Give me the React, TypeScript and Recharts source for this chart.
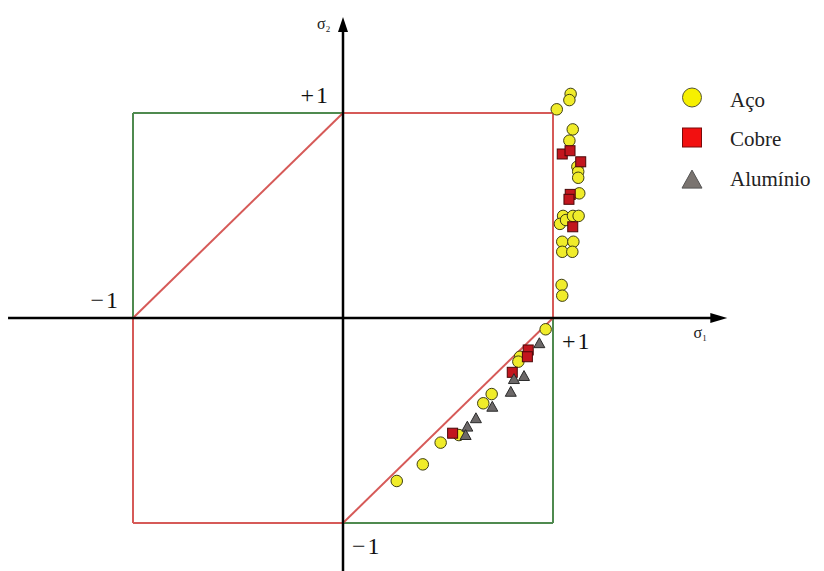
import React from 'react';
import {
  ScatterChart,
  Scatter,
  XAxis,
  YAxis,
  ReferenceLine,
  ReferenceDot,
  Legend,
} from 'recharts';

// ---------------------------------------------------------------------------
// Data: normalised principal stresses (σ1/σe, σ2/σe) at yield
// ---------------------------------------------------------------------------
const ACO = [
  { x: 1.084, y: 1.093 }, { x: 1.078, y: 1.063 }, { x: 1.018, y: 1.018 },
  { x: 1.094, y: 0.92 }, { x: 1.078, y: 0.865 }, { x: 1.116, y: 0.738 },
  { x: 1.12, y: 0.714 }, { x: 1.12, y: 0.684 }, { x: 1.125, y: 0.608 },
  { x: 1.048, y: 0.498 }, { x: 1.033, y: 0.459 }, { x: 1.062, y: 0.478 },
  { x: 1.095, y: 0.498 }, { x: 1.122, y: 0.498 }, { x: 1.044, y: 0.372 },
  { x: 1.044, y: 0.323 }, { x: 1.097, y: 0.372 }, { x: 1.092, y: 0.323 },
  { x: 1.041, y: 0.161 }, { x: 1.044, y: 0.109 },
  { x: 0.965, y: -0.055 }, { x: 0.843, y: -0.189 }, { x: 0.835, y: -0.213 },
  { x: 0.708, y: -0.371 }, { x: 0.668, y: -0.416 }, { x: 0.552, y: -0.571 },
  { x: 0.465, y: -0.608 }, { x: 0.38, y: -0.714 }, { x: 0.256, y: -0.795 },
];

const COBRE = [
  { x: 1.044, y: 0.8 }, { x: 1.081, y: 0.816 }, { x: 1.132, y: 0.762 },
  { x: 1.082, y: 0.603 }, { x: 1.076, y: 0.579 }, { x: 1.094, y: 0.445 },
  { x: 0.882, y: -0.156 }, { x: 0.878, y: -0.189 }, { x: 0.806, y: -0.265 },
  { x: 0.522, y: -0.562 },
];

const ALUMINIO = [
  { x: 0.935, y: -0.123 }, { x: 0.862, y: -0.283 }, { x: 0.814, y: -0.298 },
  { x: 0.799, y: -0.36 }, { x: 0.711, y: -0.433 }, { x: 0.633, y: -0.489 },
  { x: 0.592, y: -0.53 }, { x: 0.584, y: -0.571 },
];

const SERIES = [
  { name: 'Aço', data: ACO, kind: 'circle' },
  { name: 'Cobre', data: COBRE, kind: 'square' },
  { name: 'Alumínio', data: ALUMINIO, kind: 'triangle' },
];

// Tresca hexagon edges and the remaining sides of the unit square
const TRESCA_EDGES = [
  [{ x: 0, y: 1 }, { x: 1, y: 1 }],
  [{ x: 1, y: 1 }, { x: 1, y: 0 }],
  [{ x: 1, y: 0 }, { x: 0, y: -1 }],
  [{ x: 0, y: -1 }, { x: -1, y: -1 }],
  [{ x: -1, y: -1 }, { x: -1, y: 0 }],
  [{ x: -1, y: 0 }, { x: 0, y: 1 }],
];
const SQUARE_EDGES = [
  [{ x: -1, y: 0 }, { x: -1, y: 1 }],
  [{ x: -1, y: 1 }, { x: 0, y: 1 }],
  [{ x: 0, y: -1 }, { x: 1, y: -1 }],
  [{ x: 1, y: -1 }, { x: 1, y: 0 }],
];

const TICK_LABELS = [
  { x: 0, y: 1, text: '+1' },
  { x: -1, y: 0, text: '−1' },
  { x: 1, y: 0, text: '+1' },
  { x: 0, y: -1, text: '−1' },
];

const AXIS_TITLES = [
  { x: 1.75, y: 0, symbol: 'σ', sub: '1', dir: 'x' },
  { x: 0, y: 1.45, symbol: 'σ', sub: '2', dir: 'y' },
];

// ---------------------------------------------------------------------------
const W = 824;
const H = 571;
const ORIGIN_PX = { x: 343, y: 318 };
const UNIT_PX = { x: 210, y: 205 };
const X_DOMAIN = [-ORIGIN_PX.x / UNIT_PX.x, (W - ORIGIN_PX.x) / UNIT_PX.x];
const Y_DOMAIN = [-(H - ORIGIN_PX.y) / UNIT_PX.y, ORIGIN_PX.y / UNIT_PX.y];

const X_AXIS_START = -1.595;
const X_AXIS_TIP = 1.83;
const Y_AXIS_TIP = 1.468;

const SERIF = 'Liberation Serif, Times New Roman, serif';
const RED = '#d65a58';
const GREEN = '#4f8a4f';

const MARKER_STYLE: Record<string, { fill: string; stroke: string }> = {
  circle: { fill: '#f0ec2a', stroke: '#3e3e12' },
  square: { fill: '#c2161e', stroke: '#4a0808' },
  triangle: { fill: '#6c6868', stroke: '#2a2a2a' },
};
const LEGEND_STYLE: Record<string, { fill: string; stroke: string }> = {
  circle: { fill: '#f6f000', stroke: '#555533' },
  square: { fill: '#f21010', stroke: '#7a0a0a' },
  triangle: { fill: '#7a7470', stroke: '#555' },
};

function marker(kind: string, cx: number, cy: number, size: number, style: { fill: string; stroke: string }) {
  const h = size / 2;
  if (kind === 'circle') {
    return <circle cx={cx} cy={cy} r={h} fill={style.fill} stroke={style.stroke} strokeWidth={1} />;
  }
  if (kind === 'square') {
    return (
      <rect x={cx - h} y={cy - h} width={size} height={size} fill={style.fill} stroke={style.stroke} strokeWidth={1} />
    );
  }
  const th = size * 0.9;
  const pts = `${cx},${cy - th * 0.55} ${cx + h},${cy + th * 0.45} ${cx - h},${cy + th * 0.45}`;
  return <polygon points={pts} fill={style.fill} stroke={style.stroke} strokeWidth={1} />;
}

const makeShape = (kind: string) => (props: any) => {
  const { cx, cy } = props;
  if (cx == null || cy == null) return <g />;
  return marker(kind, cx, cy, kind === 'circle' ? 11.5 : kind === 'square' ? 10 : 11, MARKER_STYLE[kind]);
};

const tickLabelShape = (text: string, upLeft: boolean) => (props: any) => {
  const { cx, cy } = props;
  return (
    <text
      x={cx + (upLeft ? -13 : 9)}
      y={cy + (upLeft ? -10 : 31)}
      textAnchor={upLeft ? 'end' : 'start'}
      style={{ fontFamily: SERIF }}
      fontSize={24}
      fill="#111"
      letterSpacing={2}
    >
      {text}
    </text>
  );
};

const axisTitleShape = (symbol: string, sub: string, dir: string) => (props: any) => {
  const { cx, cy } = props;
  const x = dir === 'x' ? cx - 17 : cx - 26;
  const y = dir === 'x' ? cy + 20 : cy + 8;
  return (
    <text x={x} y={y} style={{ fontFamily: SERIF }} fontSize={16} fill="#222">
      {symbol}
      <tspan fontSize={9} dy={3}>
        {sub}
      </tspan>
    </text>
  );
};

const arrowShape = (dir: string) => (props: any) => {
  const { cx, cy } = props;
  const pts =
    dir === 'x'
      ? `${cx},${cy} ${cx - 17},${cy - 5} ${cx - 17},${cy + 5}`
      : `${cx},${cy} ${cx - 5},${cy + 15} ${cx + 5},${cy + 15}`;
  return <polygon points={pts} fill="#000" />;
};

const renderLegend = () => (
  <svg width={154} height={124} style={{ display: 'block' }}>
    {SERIES.map((s, i) => {
      const cy = [17.5, 57.5, 100][i];
      const size = s.kind === 'triangle' ? 20 : 19;
      return (
        <g key={s.name}>
          {marker(s.kind, 22, cy, size, LEGEND_STYLE[s.kind])}
          <text x={60} y={[27, 66, 106][i]} style={{ fontFamily: SERIF }} fontSize={21} fill="#222">
            {s.name}
          </text>
        </g>
      );
    })}
  </svg>
);

export default function App() {
  return (
    <div style={{ position: 'absolute', left: 0, top: 0, width: W, height: H, background: '#fff' }}>
      <ScatterChart width={W} height={H} margin={{ top: 0, right: 0, bottom: 0, left: 0 }}>
        <XAxis type="number" dataKey="x" domain={X_DOMAIN} allowDataOverflow hide />
        <YAxis type="number" dataKey="y" domain={Y_DOMAIN} allowDataOverflow hide />

        {SQUARE_EDGES.map((seg, i) => (
          <ReferenceLine key={`sq${i}`} segment={seg} stroke={GREEN} strokeWidth={2} ifOverflow="visible" />
        ))}
        {TRESCA_EDGES.map((seg, i) => (
          <ReferenceLine key={`tr${i}`} segment={seg} stroke={RED} strokeWidth={2} ifOverflow="visible" />
        ))}

        {/* coordinate axes */}
        <ReferenceLine
          segment={[{ x: X_AXIS_START, y: 0 }, { x: X_AXIS_TIP - 0.05, y: 0 }]}
          stroke="#000"
          strokeWidth={2.5}
          ifOverflow="visible"
        />
        <ReferenceLine
          segment={[{ x: 0, y: Y_DOMAIN[0] }, { x: 0, y: Y_AXIS_TIP - 0.05 }]}
          stroke="#000"
          strokeWidth={2.5}
          ifOverflow="visible"
        />
        <ReferenceDot x={X_AXIS_TIP} y={0} r={0} shape={arrowShape('x')} ifOverflow="visible" />
        <ReferenceDot x={0} y={Y_AXIS_TIP} r={0} shape={arrowShape('y')} ifOverflow="visible" />

        {AXIS_TITLES.map((t) => (
          <ReferenceDot
            key={t.dir}
            x={t.x}
            y={t.y}
            r={0}
            shape={axisTitleShape(t.symbol, t.sub, t.dir)}
            ifOverflow="visible"
          />
        ))}
        {TICK_LABELS.map((t, i) => (
          <ReferenceDot
            key={`t${i}`}
            x={t.x}
            y={t.y}
            r={0}
            shape={tickLabelShape(t.text, t.x - t.y < 0)}
            ifOverflow="visible"
          />
        ))}

        {SERIES.map((s) => (
          <Scatter
            key={s.name}
            name={s.name}
            data={s.data}
            shape={makeShape(s.kind)}
            isAnimationActive={false}
          />
        ))}

        <Legend
          layout="vertical"
          align="center"
          verticalAlign="middle"
          content={renderLegend}
          wrapperStyle={{ position: 'absolute', left: 670, top: 80, width: 154, height: 124 }}
        />
      </ScatterChart>
    </div>
  );
}
